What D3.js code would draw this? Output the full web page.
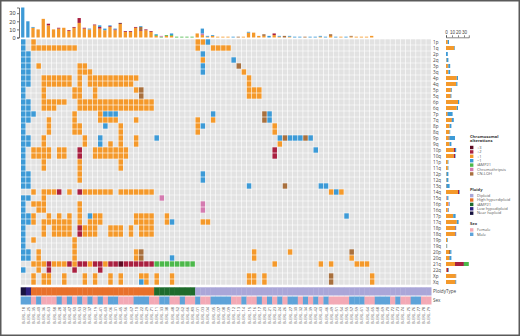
<!DOCTYPE html>
<html>
<head>
<meta charset="utf-8">
<script src="https://cdn.jsdelivr.net/npm/d3@7"></script>
<style>
  body { margin: 0; background: #fff; }
  svg { display: block; font-family: "Open Sans", "DejaVu Sans", sans-serif; }
</style>
</head>
<body>
<div id="chart"></div>
<script>
// ---- data ----
var samples = [
  "B-ERL-18","B-ERL-25","B-ERL-35","B-ERL-40","B-ERL-36","B-ERL-63","B-ERL-58","B-ERL-28","B-ERL-44","B-ERL-47",
  "B-ERL-50","B-ERL-53","B-ERL-02","B-ERL-37","B-ERL-19","B-ERL-41","B-ERL-60","B-ERL-06","B-ERL-31","B-ERL-45",
  "B-ERL-56","B-ERL-67","B-ERL-10","B-ERL-22","B-ERL-29","B-ERL-71","B-ERL-11","B-ERL-33","B-ERL-38","B-ERL-48",
  "B-ERL-52","B-ERL-62","B-ERL-66","B-ERL-80","B-ERL-01","B-ERL-03","B-ERL-04","B-ERL-05","B-ERL-07","B-ERL-08",
  "B-ERL-09","B-ERL-12","B-ERL-13","B-ERL-14","B-ERL-15","B-ERL-16","B-ERL-17","B-ERL-20","B-ERL-21","B-ERL-23",
  "B-ERL-24","B-ERL-26","B-ERL-27","B-ERL-30","B-ERL-32","B-ERL-34","B-ERL-39","B-ERL-42","B-ERL-43","B-ERL-46",
  "B-ERL-49","B-ERL-51","B-ERL-54","B-ERL-55","B-ERL-57","B-ERL-59","B-ERL-61","B-ERL-64","B-ERL-65","B-ERL-68",
  "B-ERL-69","B-ERL-70","B-ERL-72","B-ERL-73","B-ERL-74","B-ERL-75","B-ERL-76","B-ERL-77","B-ERL-78","B-ERL-79"
]

var arms = ["1p","1q","2p","2q","3p","3q","4p","4q","5p","5q","6p","6q","7p","7q","8p","8q","9p","9q",
  "10p","10q","11p","11q","12p","12q","13q","14q","15q","16p","16q","17p","17q","18p","18q","19p","19q",
  "20p","20q","21q","22q","Xp","Xq"]

// one string per arm, one character per sample:
// o +1, r +2, d +3, b -1, g iAMP21, p chromothripsis, n CN-LOH, . none
var armCalls = [
  "b.o......." + ".........." + ".........." + "....oob..." + ".........." + ".........." + ".........." + "..........",
  "b.oooooooo" + "o........." + ".........." + "....o..ooo" + "o........." + ".........." + ".........." + "..........",
  "bb........" + ".........." + ".........." + ".....b...." + ".........." + ".........." + ".........." + "..........",
  "bb........" + ".........." + ".........." + ".....o...." + ".b........" + ".........." + ".........." + "..........",
  "bb.o......" + ".oo......." + ".........." + ".....b...." + "..n......." + ".........." + ".........." + "..........",
  "bb........" + ".ooo......" + ".........." + ".....b...." + "...o......" + ".........." + ".........." + "..........",
  "bb..oooooo" + ".o.ooooooo" + "ooo......." + ".........." + "....o....." + ".........." + ".........." + "..........",
  "bb..oooooo" + ".o.ooooooo" + "oo........" + ".........." + "....o....." + ".........." + ".........." + "..........",
  "b...o....." + "oo..o....." + "..on......" + ".........." + "....ooo..." + ".........." + ".........." + "..........",
  "b...o....." + "oo..o....." + "...n......" + ".........." + "....ooo..." + ".........." + ".........." + "..........",
  "bb..ooooo." + ".ooooooooo" + "oooooo...." + ".........." + ".........." + ".........." + ".........." + "..........",
  "bb..ooo..." + ".ooooooooo" + "oooooo...." + ".........." + ".........." + ".........." + ".........." + "..........",
  "bbb......." + "o....obbb." + ".........." + ".......b.." + ".......nb." + ".........." + ".........." + "..........",
  "bb...o...." + "o....oooo." + "..o......." + "....o..o.." + ".......nb." + ".........." + ".........." + "..........",
  "b....o...." + "oo....b..o" + ".........." + "....ob...." + ".........o" + ".........." + ".........." + "..........",
  "b....o...." + "oo.......o" + ".........." + "....o....." + ".........o" + ".........." + ".........." + "..........",
  "bb..o....." + "..o..b...o" + "..o...b..." + ".........." + ".........." + "bnbbbnb..." + ".........." + "..........",
  "bb..o....." + "..o..b.o.o" + "..o......." + ".........." + ".........." + "o........." + ".........." + "..........",
  "b.oooo.oo." + ".r..oooooo" + "o........." + ".........." + ".........r" + ".......b.." + ".........." + "..........",
  "b.oooo.oo." + ".r..oooooo" + "o........." + ".........." + ".........r" + ".........." + ".........." + "..........",
  "b...o....." + ".o.......o" + ".........." + ".........." + ".........." + ".........." + ".........." + "..........",
  "b...o....." + ".o.......o" + ".........." + ".........." + ".........." + ".........." + ".........." + "..........",
  "bb........" + ".o........" + ".........." + ".....b...." + ".........." + ".........." + ".........." + "..........",
  "bb........" + ".o........" + ".........." + ".....b...." + ".........." + ".........." + ".........." + "..........",
  "bb........" + ".........." + ".........." + ".........." + "....b....." + ".n......bb" + ".........." + "..........",
  "..o.ooor.o" + ".roooooo.o" + "oooooo...." + ".........." + ".........." + ".........." + "obo......." + "..........",
  "bb..o....." + ".........." + ".......p.." + ".........." + ".........." + ".........." + ".........." + "..........",
  "b.ooo....." + ".o........" + ".........." + ".....p...." + ".........." + ".........." + ".........." + "..........",
  "b..oo....." + ".o........" + ".........." + ".....p...." + ".........." + ".........." + ".........." + "..........",
  "bbo..o.o.o" + ".o.boo...." + "..oooo..o." + ".........." + ".........." + ".........." + "...b......" + "..........",
  "bbo.oooooo" + ".o.ooo...." + "..oooo..ob" + ".....oo..." + ".........." + ".........." + ".........." + "..........",
  "b...o.oooo" + ".rooo..ooo" + ".o.ooo...." + ".........." + ".........." + ".........." + ".........." + "..........",
  "b...o.oooo" + ".rooo..ooo" + ".o.ooo...." + ".........." + ".........." + ".........." + ".........." + "..........",
  "b.o......." + "o........." + ".........." + ".........." + ".........." + ".........." + ".........." + "..........",
  "b........." + "o........." + ".........." + ".........." + ".........." + ".........." + ".........." + "..........",
  "bb.o......" + "o........." + "..on......" + ".........." + ".....o...." + "..o......." + "....n....." + "..........",
  "bb.o......" + "o........." + "..on.....b" + ".........." + ".....o...." + ".........." + "....o....." + "..........",
  "..ooorooor" + "orrorrorrd" + "rrrrrrgggg" + "gggg......" + ".........o" + "........o." + "o....ooo.." + "..........",
  "b..o.r...." + "r....r...." + ".........." + ".........." + ".........." + ".........." + ".........." + "..........",
  "..o.oo..o." + "..o.o..o.o" + "...oo.o..o" + ".........." + "....oo.o.." + ".........." + "n.......o." + "..........",
  "..o.oo..o." + "..o.o..o.o" + "...bo.o..o" + ".........." + "....oo.o.." + ".........." + "n.......o." + ".........."
]

// ploidy per sample: NH near haploid, LH low hypodiploid, HeH high hyperdiploid, iA iAMP21, D diploid
var ploidy = ["NH","LH",
  "HeH","HeH","HeH","HeH","HeH","HeH","HeH","HeH","HeH","HeH","HeH","HeH",
  "HeH","HeH","HeH","HeH","HeH","HeH","HeH","HeH","HeH","HeH","HeH","HeH",
  "iA","iA","iA","iA","iA","iA","iA","iA",
  "D","D","D","D","D","D","D","D","D","D","D","D","D","D","D","D","D","D","D","D","D","D","D",
  "D","D","D","D","D","D","D","D","D","D","D","D","D","D","D","D","D","D","D","D","D","D","D","D"]

// sex per sample: M male, F female
var sex = ("MMFMFFFMFM" + "FMFMFMFMMF" + "FFMMMFFMMF" + "FMFFMFFMMM" +
           "MFFMFFMFMF" + "MFMMFMFMFM" + "FFFFMMMFFM" + "MMFMFFMMFF").split("")

var altTypes = ["o", "r", "d", "g", "p", "n", "b"]
var altNames = ["+1", "+2", "+3", "iAMP21", "Chromothripsis", "CN-LOH", "\u22121"]
var altColors = ["#f4992b", "#a92040", "#5e0a22", "#4cb84a", "#d47bb0", "#a8703e", "#3d9ad6"]

var legendAltOrder = ["d", "r", "o", "b", "g", "p", "n"]

var ploidyKeys = ["D", "HeH", "iA", "LH", "NH"]
var ploidyNames = ["Diploid", "High hyperdiploid", "iAMP21", "Low hypodiploid", "Near haploid"]
var ploidyColors = ["#aaa6d8", "#e8702a", "#1e6b2c", "#2e2180", "#17123f"]

var sexKeys = ["F", "M"]
var sexNames = ["Female", "Male"]
var sexColors = ["#f3a9b5", "#5ea3d9"]

var topTicks = [0, 10, 20, 30]

// ---- setup ----
var W = 520, H = 336
var svg = d3.select("#chart").append("svg")
  .attr("width", W)
  .attr("height", H)

svg.append("rect")
  .attr("x", 0.75).attr("y", 0.75)
  .attr("width", W - 1.5).attr("height", H - 1.5)
  .attr("fill", "none")
  .attr("stroke", "#5a5a5a")
  .attr("stroke-width", 1.5)

var altColor = d3.scaleOrdinal().domain(altTypes).range(altColors)
var ploidyColor = d3.scaleOrdinal().domain(ploidyKeys).range(ploidyColors)
var sexColor = d3.scaleOrdinal().domain(sexKeys).range(sexColors)

var x = d3.scaleBand().domain(samples).range([20.7, 431.2])
var y = d3.scaleBand().domain(arms).range([39, 285])
var bw = x.bandwidth(), bh = y.bandwidth()

// flatten matrix
var cells = []
arms.forEach(function(a, i) {
  samples.forEach(function(s, j) {
    cells.push({ arm: a, sample: s, code: armCalls[i].charAt(j) })
  })
})

// ---- main grid ----
var grid = svg.append("g").attr("class", "grid")
grid.selectAll("rect")
  .data(cells)
  .enter()
  .append("rect")
    .attr("x", d => x(d.sample) + 0.3)
    .attr("y", d => y(d.arm) + 0.3)
    .attr("width", bw - 0.6)
    .attr("height", bh - 0.6)
    .attr("fill", d => d.code === "." ? "#e2e2e2" : altColor(d.code))

// ---- top bars (per sample) ----
var colCounts = samples.map(function(s, j) {
  var o = { sample: s }
  altTypes.forEach(t => o[t] = 0)
  armCalls.forEach(function(str) {
    var c = str.charAt(j)
    if (c !== ".") o[c] += 1
  })
  return o
})
var rowCounts = arms.map(function(a, i) {
  var o = { arm: a }
  altTypes.forEach(t => o[t] = 0)
  armCalls[i].split("").forEach(function(c) { if (c !== ".") o[c] += 1 })
  return o
})

var stack = d3.stack().keys(altTypes)
var colStack = stack(colCounts)
var rowStack = stack(rowCounts)

var yTop = d3.scaleLinear().domain([0, 37]).range([37.5, 7.5])

svg.append("g")
  .selectAll("g")
  .data(colStack)
  .enter()
  .append("g")
    .attr("fill", d => altColor(d.key))
  .selectAll("rect")
  .data(d => d)
  .enter()
  .append("rect")
    .attr("x", d => x(d.data.sample) + 0.4)
    .attr("y", d => yTop(d[1]))
    .attr("width", bw * 0.64)
    .attr("height", d => Math.max(0, yTop(d[0]) - yTop(d[1])))

var yAxis = svg.append("g")
  .attr("transform", "translate(19,0)")
  .call(d3.axisLeft(yTop).tickValues(topTicks).tickSize(2).tickPadding(1.5))
yAxis.selectAll("text").attr("font-size", 5.6).attr("fill", "#444")
yAxis.selectAll("line, path").attr("stroke", "#333").attr("stroke-width", 0.7)

// ---- right bars (per arm) ----
var rowMax = d3.max(rowCounts, d => d3.sum(altTypes, t => d[t]))
var xR = d3.scaleLinear().domain([0, rowMax]).range([446, 446 + rowMax * 0.6])

svg.append("g")
  .selectAll("g")
  .data(rowStack)
  .enter()
  .append("g")
    .attr("fill", d => altColor(d.key))
  .selectAll("rect")
  .data(d => d)
  .enter()
  .append("rect")
    .attr("x", d => xR(d[0]))
    .attr("y", d => y(d.data.arm) + 1)
    .attr("width", d => Math.max(0, xR(d[1]) - xR(d[0])))
    .attr("height", bh - 2)

var xAxis = svg.append("g")
  .attr("transform", "translate(0,37.3)")
  .call(d3.axisTop(xR).tickValues(topTicks).tickSize(2).tickPadding(1))
xAxis.selectAll("text").attr("font-size", 4.6).attr("fill", "#444")
xAxis.selectAll("line, path").attr("stroke", "#333").attr("stroke-width", 0.6)

// ---- row labels ----
svg.append("g")
  .selectAll("text")
  .data(arms)
  .enter()
  .append("text")
    .attr("x", 433)
    .attr("y", d => y(d) + bh / 2 + 1.6)
    .attr("font-size", 4.6)
    .attr("fill", "#444")
    .text(d => d)

// ---- ploidy & sex rows ----
var annY = [287.3, 296.5], annH = [8.2, 8]
svg.append("g")
  .selectAll("rect")
  .data(samples)
  .enter()
  .append("rect")
    .attr("x", d => x(d))
    .attr("y", annY[0])
    .attr("width", bw + 0.3)
    .attr("height", annH[0])
    .attr("fill", (d, j) => ploidyColor(ploidy[j]))

svg.append("g")
  .selectAll("rect")
  .data(samples)
  .enter()
  .append("rect")
    .attr("x", d => x(d))
    .attr("y", annY[1])
    .attr("width", bw + 0.3)
    .attr("height", annH[1])
    .attr("fill", (d, j) => sexColor(sex[j]))

svg.append("text").attr("x", 433).attr("y", annY[0] + 5.5)
  .attr("font-size", 4.6).attr("fill", "#444").text("PloidyType")
svg.append("text").attr("x", 433).attr("y", annY[1] + 5.5)
  .attr("font-size", 4.6).attr("fill", "#444").text("Sex")

// ---- column labels ----
svg.append("g")
  .selectAll("text")
  .data(samples)
  .enter()
  .append("text")
    .attr("transform", d => "translate(" + (x(d) + bw / 2 + 1.5) + ",306.8) rotate(-90)")
    .attr("text-anchor", "end")
    .attr("font-size", 4.2)
    .attr("fill", "#555")
    .text(d => d)

// ---- legends ----
var lg = svg.append("g").attr("transform", "translate(470,0)")

function legendBlock(g, titleLines, y0, keys, names, colorFn) {
  titleLines.forEach(function(t, i) {
    g.append("text").attr("x", 0).attr("y", y0 + i * 4.8)
      .attr("font-size", 4.1).attr("font-weight", "bold").attr("fill", "#333").text(t)
  })
  var top = y0 + (titleLines.length - 1) * 4.8 + 3.4
  keys.forEach(function(k, i) {
    var yy = top + i * 4.4
    g.append("rect").attr("x", 0).attr("y", yy).attr("width", 3.4).attr("height", 3.4)
      .attr("fill", colorFn(k))
    g.append("text").attr("x", 7).attr("y", yy + 2.9)
      .attr("font-size", 4).attr("fill", "#555").text(names[i])
  })
}

legendBlock(lg, ["Chromosomal", "alterations"], 137.6, legendAltOrder,
  legendAltOrder.map(k => altNames[altTypes.indexOf(k)]), altColor)
legendBlock(lg, ["Ploidy"], 190.5, ploidyKeys, ploidyNames, ploidyColor)
legendBlock(lg, ["Sex"], 224.8, sexKeys, sexNames, sexColor)
</script>
</body>
</html>
